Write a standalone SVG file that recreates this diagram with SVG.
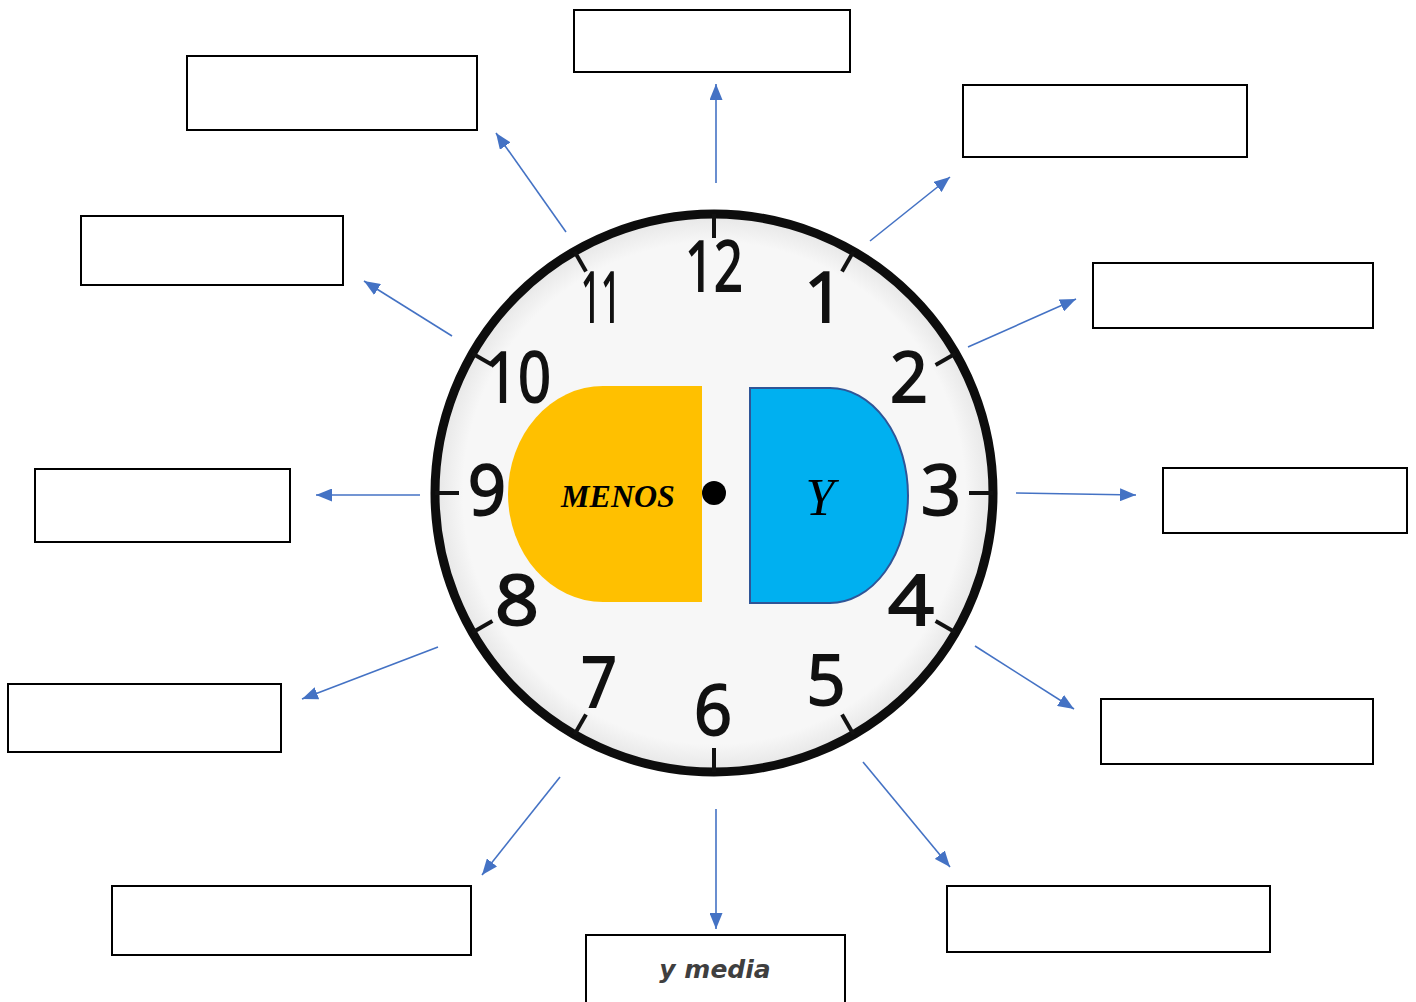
<svg xmlns="http://www.w3.org/2000/svg" width="1416" height="1002" viewBox="0 0 1416 1002">
<style>
.box{fill:#fff;stroke:#000;stroke-width:2}
.arr{stroke:#4472c4;stroke-width:1.6;fill:none;marker-end:url(#ah)}
.num{font-family:"Open Sans","DejaVu Sans",sans-serif;font-size:69px;fill:#111;stroke:#111;stroke-width:2;text-anchor:middle}
.tick{stroke:#111;stroke-width:4}
</style>
<defs>
<marker id="ah" markerWidth="16" markerHeight="13" refX="16" refY="6.5" orient="auto" markerUnits="userSpaceOnUse">
<path d="M0,0 L16,6.5 L0,13 z" fill="#4472c4"/>
</marker>
<radialGradient id="face" cx="0.5" cy="0.5" r="0.5">
<stop offset="0.9" stop-color="#f7f7f7"/>
<stop offset="1" stop-color="#e6e6e6"/>
</radialGradient>
</defs>
<rect width="1416" height="1002" fill="#fff"/>
<g id="clock">
<circle cx="714" cy="493" r="279" fill="url(#face)" stroke="#0d0d0d" stroke-width="9"/>
<g id="ticks">
<line class="tick" x1="714" y1="214" x2="714" y2="238"/>
<line class="tick" x1="853.5" y1="251.4" x2="842" y2="271.4"/>
<line class="tick" x1="955.6" y1="353.5" x2="935.6" y2="365"/>
<line class="tick" x1="993" y1="493" x2="969" y2="493"/>
<line class="tick" x1="955.6" y1="632.5" x2="935.6" y2="621"/>
<line class="tick" x1="853.5" y1="734.6" x2="842" y2="714.6"/>
<line class="tick" x1="714" y1="772" x2="714" y2="748"/>
<line class="tick" x1="574.5" y1="734.6" x2="586" y2="714.6"/>
<line class="tick" x1="472.4" y1="632.5" x2="492.4" y2="621"/>
<line class="tick" x1="435" y1="493" x2="459" y2="493"/>
<line class="tick" x1="472.4" y1="353.5" x2="492.4" y2="365"/>
<line class="tick" x1="574.5" y1="251.4" x2="586" y2="271.4"/>
</g>
<g id="numbers">
<text class="num" x="714" y="291" textLength="58" lengthAdjust="spacingAndGlyphs">12</text>
<text class="num" x="824" y="322">1</text>
<text class="num" x="909" y="402" textLength="38" lengthAdjust="spacingAndGlyphs">2</text>
<text class="num" x="941" y="515" textLength="40" lengthAdjust="spacingAndGlyphs">3</text>
<text class="num" x="911" y="625" textLength="46" lengthAdjust="spacingAndGlyphs">4</text>
<text class="num" x="826" y="705" textLength="39" lengthAdjust="spacingAndGlyphs">5</text>
<text class="num" x="713" y="735" textLength="38" lengthAdjust="spacingAndGlyphs">6</text>
<text class="num" x="599" y="707" textLength="36" lengthAdjust="spacingAndGlyphs">7</text>
<text class="num" x="517" y="625" textLength="44" lengthAdjust="spacingAndGlyphs">8</text>
<text class="num" x="487" y="515" textLength="38" lengthAdjust="spacingAndGlyphs">9</text>
<text class="num" x="518" y="402" textLength="66" lengthAdjust="spacingAndGlyphs">10</text>
<text class="num" x="601" y="322" textLength="40" lengthAdjust="spacingAndGlyphs">11</text>
</g>
<circle cx="714" cy="493" r="12" fill="#000"/>
</g>
<g id="menos">
<path d="M702,386 H603 A95,108 0 0 0 603,602 H702 Z" fill="#ffc000"/>
<text x="618" y="507" font-family="Liberation Serif,serif" font-size="32" font-weight="bold" font-style="italic" text-anchor="middle" fill="#000">MENOS</text>
</g>
<g id="y">
<path d="M750,388 H830 A78,107.5 0 0 1 830,603 H750 Z" fill="#00b0f0" stroke="#2f5597" stroke-width="2"/>
<text x="820" y="515" font-family="Liberation Serif,serif" font-size="52" font-style="italic" text-anchor="middle" fill="#000">Y</text>
</g>
<g id="boxes">
<rect id="b12" class="box" x="574" y="10" width="276" height="62"/>
<rect id="b11" class="box" x="187" y="56" width="290" height="74"/>
<rect id="b1" class="box" x="963" y="85" width="284" height="72"/>
<rect id="b10" class="box" x="81" y="216" width="262" height="69"/>
<rect id="b2" class="box" x="1093" y="263" width="280" height="65"/>
<rect id="b9" class="box" x="35" y="469" width="255" height="73"/>
<rect id="b3" class="box" x="1163" y="468" width="244" height="65"/>
<rect id="b8" class="box" x="8" y="684" width="273" height="68"/>
<rect id="b4" class="box" x="1101" y="699" width="272" height="65"/>
<rect id="b7" class="box" x="112" y="886" width="359" height="69"/>
<rect id="b5" class="box" x="947" y="886" width="323" height="66"/>
<g id="b6">
<rect class="box" x="586" y="935" width="259" height="80"/>
<text x="715" y="978" font-family="DejaVu Sans,sans-serif" font-size="25" font-weight="bold" font-style="italic" text-anchor="middle" fill="#3f3f3f">y media</text>
</g>
</g>
<g id="connectors">
<line class="arr" x1="716" y1="183" x2="716" y2="84"/>
<line class="arr" x1="566" y1="232" x2="496" y2="133"/>
<line class="arr" x1="870" y1="241" x2="950" y2="177"/>
<line class="arr" x1="452" y1="336" x2="364" y2="281"/>
<line class="arr" x1="968" y1="347" x2="1076" y2="299"/>
<line class="arr" x1="420" y1="495" x2="316" y2="495"/>
<line class="arr" x1="1016" y1="493" x2="1136" y2="495"/>
<line class="arr" x1="438" y1="647" x2="302" y2="699"/>
<line class="arr" x1="975" y1="646" x2="1074" y2="709"/>
<line class="arr" x1="560" y1="777" x2="482" y2="875"/>
<line class="arr" x1="716" y1="809" x2="716" y2="929"/>
<line class="arr" x1="863" y1="762" x2="950" y2="867"/>
</g>
</svg>
